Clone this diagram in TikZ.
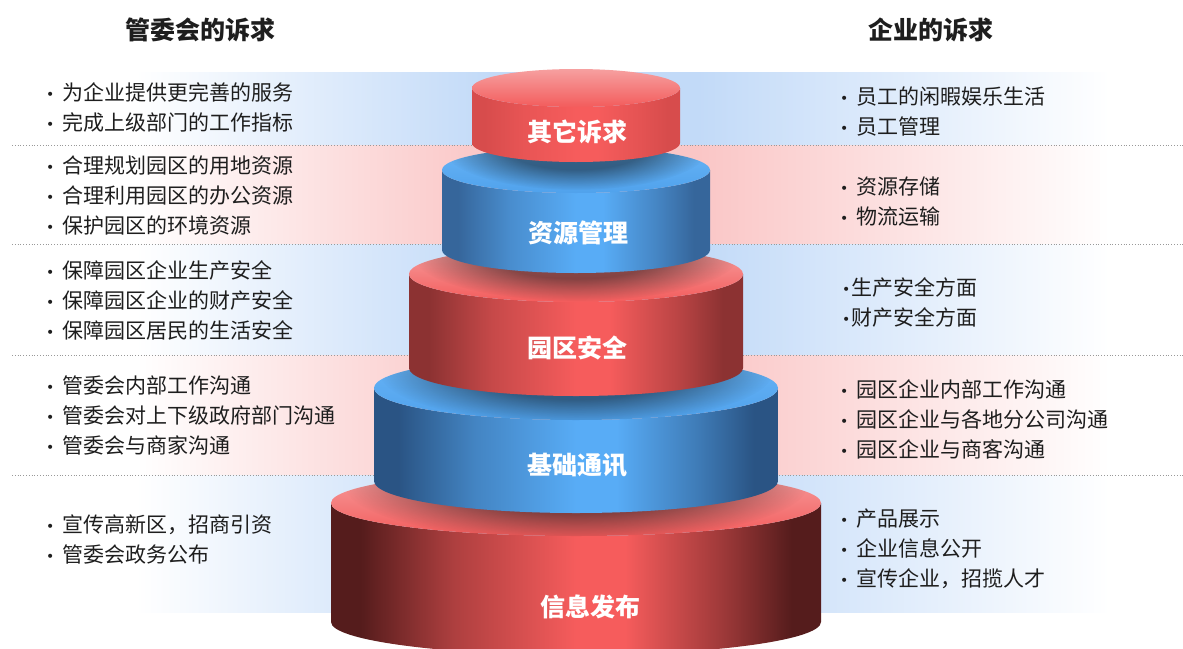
\documentclass[tikz,border=0pt]{standalone}
\usepackage{fontspec}
\setmainfont{Noto Sans CJK SC}
\newfontfamily\bulfont{DejaVu Sans}
\usetikzlibrary{fadings}

\definecolor{bandblue}{RGB}{194,218,248}
\definecolor{bandpink}{RGB}{250,198,198}
\definecolor{redhi}{RGB}{246,92,92}
\definecolor{redtopA}{RGB}{246,160,160}
\definecolor{redtopB}{RGB}{243,92,92}
\definecolor{blutopA}{RGB}{104,180,246}
\definecolor{blutopB}{RGB}{80,162,236}
\definecolor{bluhi}{RGB}{88,172,246}
\definecolor{redEa}{RGB}{215,76,76}
\definecolor{redEc}{RGB}{140,50,50}
\definecolor{redEe}{RGB}{85,28,28}
\definecolor{bluEb}{RGB}{54,102,155}
\definecolor{bluEd}{RGB}{42,84,132}
\definecolor{txt}{RGB}{30,30,30}

% TikZ maps the path bounding box onto 25bp..75bp of the shading
\newcommand\mkside[3]{\pgfdeclarehorizontalshading{#1}{100bp}{color(0bp)=(#2); color(25bp)=(#2); color(28bp)=(#2); color(37.5bp)=(#2!45!#3); color(50bp)=(#3); color(55bp)=(#3); color(65bp)=(#2!55!#3); color(72bp)=(#2); color(100bp)=(#2)}}
\mkside{sideA}{redEa}{redhi}
\mkside{sideB}{bluEb}{bluhi}
\mkside{sideC}{redEc}{redhi}
\mkside{sideD}{bluEd}{bluhi}
\mkside{sideE}{redEe}{redhi}

\pgfdeclarehorizontalshading{bandLblue}{100bp}{color(0bp)=(white); color(36bp)=(white); color(67.5bp)=(bandblue); color(100bp)=(bandblue)}
\pgfdeclarehorizontalshading{bandLpink}{100bp}{color(0bp)=(white); color(36bp)=(white); color(67.5bp)=(bandpink); color(100bp)=(bandpink)}
\pgfdeclarehorizontalshading{bandRblue}{100bp}{color(0bp)=(bandblue); color(35bp)=(bandblue); color(69bp)=(white); color(100bp)=(white)}
\pgfdeclarehorizontalshading{bandRpink}{100bp}{color(0bp)=(bandpink); color(35bp)=(bandpink); color(69bp)=(white); color(100bp)=(white)}

\pgfdeclareradialshading{shfadeshade}{\pgfpointorigin}{color(0bp)=(white); color(13bp)=(white); color(25bp)=(black); color(50bp)=(black)}
\pgfdeclarefading{shfade}{\pgfuseshading{shfadeshade}}

\tikzset{
  item/.style={anchor=west, align=left, inner sep=0pt, text=txt,
    font=\fontsize{21}{30}\selectfont},
  ttl/.style={inner sep=0pt, text=txt, font=\fontsize{25}{25}\selectfont\bfseries},
  tierlabel/.style={inner sep=0pt, text=white, font=\fontsize{25}{25}\selectfont\bfseries},
  sep/.style={dotted, line width=0.8pt, color=black!40},
}
\newcommand\bt{\makebox[16pt][l]{\raisebox{1pt}{\bulfont\fontsize{14}{14}\selectfont •}}}
\newcommand\btn{\makebox[9pt][l]{\raisebox{1pt}{\bulfont\fontsize{14}{14}\selectfont •}}}

% #1 rx, #2 yt, #3 yb, #4 ry, #5 side shading, #6 top colour A, #7 top colour B
\newcommand\tierbody[7]{%
  \path[shading=#5] (576-#1,#2) -- (576-#1,#3)
     arc[start angle=180,end angle=360,x radius=#1pt,y radius=#4pt]
     -- (576+#1,#2)
     arc[start angle=0,end angle=-180,x radius=#1pt,y radius=#4pt] -- cycle;
  \path[top color=#6, bottom color=#7] (576,#2) ellipse[x radius=#1pt, y radius=#4pt];
}
% shadow of upper tier (#3 rx, #4 yb, #5 ry) on lower top (#1 rx, #2 yt, #6 ry)
\newcommand\tiershadow[6]{%
  \begin{scope}
    \clip (576,#2) ellipse[x radius=#1pt, y radius=#6pt];
    \fill[black, opacity=0.45, path fading=shfade] (576,#4+4) ellipse[x radius=#3pt+30pt, y radius=#5pt+24pt];
  \end{scope}
}

\begin{document}
\begin{tikzpicture}[x=1pt,y=-1pt]
\useasboundingbox (0,0) rectangle (1183,648);
\clip (0,0) rectangle (1183,648);
\fill[white] (0,0) rectangle (1183,648);

% bands
\path[shading=bandLblue] (12,72) rectangle (576,145);
\path[shading=bandRblue] (576,72) rectangle (1183,145);
\path[shading=bandLpink] (12,145) rectangle (576,244);
\path[shading=bandRpink] (576,145) rectangle (1183,244);
\path[shading=bandLblue] (12,244) rectangle (576,355);
\path[shading=bandRblue] (576,244) rectangle (1183,355);
\path[shading=bandLpink] (12,355) rectangle (576,475);
\path[shading=bandRpink] (576,355) rectangle (1183,475);
\path[shading=bandLblue] (12,475) rectangle (576,612);
\path[shading=bandRblue] (576,475) rectangle (1183,612);

\draw[sep] (12,145) -- (1183,145);
\draw[sep] (12,244) -- (1183,244);
\draw[sep] (12,355) -- (1183,355);
\draw[sep] (12,475) -- (1183,475);

% tiers, bottom first
\tierbody{245}{503}{622}{33}{sideE}{redtopA}{redtopB}
\tiershadow{245}{503}{202}{481}{32}{33}
\tierbody{202}{388}{481}{32}{sideD}{blutopA}{blutopB}
\tiershadow{202}{388}{167}{368}{28}{32}
\tierbody{167}{274}{368}{28}{sideC}{redtopA}{redtopB}
\tiershadow{167}{274}{134}{250}{23}{28}
\tierbody{134}{170}{250}{23}{sideB}{blutopA}{blutopB}
\tiershadow{134}{170}{104}{143}{19}{23}
\tierbody{104}{88}{143}{19}{sideA}{redtopA}{redtopB}

\node[tierlabel] (t1) at (577,132) {其它诉求};
\node[tierlabel] (t2) at (578,233) {资源管理};
\node[tierlabel] (t3) at (577,348) {园区安全};
\node[tierlabel] (t4) at (577,465) {基础通讯};
\node[tierlabel] (t5) at (590,607) {信息发布};

% titles
\node[ttl] (gl) at (200,30) {管委会的诉求};
\node[ttl] (gr) at (931,30) {企业的诉求};

% left texts
\node[item] (l1) at (46,107.5) {\bt 为企业提供更完善的服务\\\bt 完成上级部门的工作指标};
\node[item] (l2) at (46,196) {\bt 合理规划园区的用地资源\\\bt 合理利用园区的办公资源\\\bt 保护园区的环境资源};
\node[item] (l3) at (46,300) {\bt 保障园区企业生产安全\\\bt 保障园区企业的财产安全\\\bt 保障园区居民的生活安全};
\node[item] (l4) at (46,415.5) {\bt 管委会内部工作沟通\\\bt 管委会对上下级政府部门沟通\\\bt 管委会与商家沟通};
\node[item] (l5) at (46,539) {\bt 宣传高新区，招商引资\\\bt 管委会政务公布};

% right texts
\node[item] (r1) at (840,111.5) {\bt 员工的闲暇娱乐生活\\\bt 员工管理};
\node[item] (r2) at (840,201.5) {\bt 资源存储\\\bt 物流运输};
\node[item] (r3) at (842,302) {\btn 生产安全方面\\\btn 财产安全方面};
\node[item] (r4) at (840,419.5) {\bt 园区企业内部工作沟通\\\bt 园区企业与各地分公司沟通\\\bt 园区企业与商客沟通};
\node[item] (r5) at (840,548.5) {\bt 产品展示\\\bt 企业信息公开\\\bt 宣传企业，招揽人才};
\end{tikzpicture}
\end{document}
